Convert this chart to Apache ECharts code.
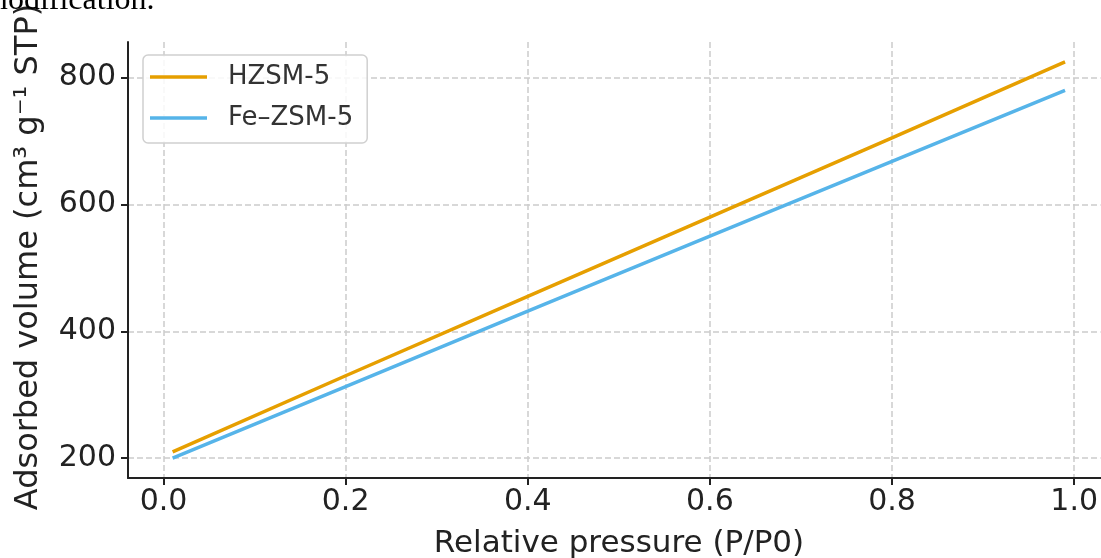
<!DOCTYPE html>
<html>
<head>
<meta charset="utf-8">
<script src="https://cdn.jsdelivr.net/npm/echarts@6/dist/echarts.min.js"></script>
<style>
  html, body { margin: 0; padding: 0; background: #fff; }
  #chart { width: 1101px; height: 558px; }
</style>
</head>
<body>
<div id="chart"></div>
<script>
// relative pressure values (P/P0)
var pressure = [0.01, 0.2, 0.4, 0.6, 0.8, 0.99];
// adsorbed volume, cm3/g STP
var hzsm5 = [210, 330, 455, 580, 705, 825];
var feZsm5 = [200, 313, 432, 550, 668, 780];

var xTicks = [0, 0.2, 0.4, 0.6, 0.8, 1.0];
var yTicks = [200, 400, 600, 800];

function pairs(xs, ys) {
    return xs.map(function (x, i) { return [x, ys[i]]; });
}

var font = 'DejaVu Sans';
var myChart = echarts.init(document.getElementById('chart'));

myChart.setOption({
    animation: false,
    backgroundColor: '#fff',
    grid: {
        left: 128,
        top: 42,
        right: 0,
        bottom: 80
    },
    legend: {
        left: 143,
        top: 55,
        orient: 'vertical',
        icon: 'rect',
        itemWidth: 57,
        itemHeight: 3.5,
        itemGap: 11,
        padding: [7, 14, 10, 7],
        borderColor: '#d0d0d0',
        borderWidth: 1.5,
        borderRadius: 5,
        backgroundColor: 'rgba(255,255,255,0.85)',
        textStyle: {
            fontFamily: font,
            fontSize: 26,
            color: '#333',
            lineHeight: 30,
            padding: [0, 0, 0, 16]
        },
        data: ['HZSM-5', 'Fe–ZSM-5']
    },
    xAxis: {
        type: 'value',
        min: -0.039,
        max: 1.029,
        axisLine: {show: true, onZero: false, lineStyle: {color: '#222', width: 2}},
        axisTick: {
            show: true,
            length: 7,
            lineStyle: {color: '#222', width: 2},
            customValues: xTicks
        },
        axisLabel: {
            customValues: xTicks,
            margin: 9,
            fontFamily: font,
            fontSize: 30,
            color: '#222',
            formatter: function (v) { return v.toFixed(1); }
        },
        splitLine: {
            show: true,
            lineStyle: {color: '#cccccc', width: 1.5, type: [6, 3]}
        }
    },
    yAxis: {
        type: 'value',
        min: 168.75,
        max: 856.25,
        axisLine: {show: true, onZero: false, lineStyle: {color: '#222', width: 2}},
        axisTick: {
            show: true,
            length: 7,
            lineStyle: {color: '#222', width: 2},
            customValues: yTicks
        },
        axisLabel: {
            customValues: yTicks,
            margin: 12,
            fontFamily: font,
            fontSize: 30,
            color: '#222'
        },
        splitLine: {
            show: true,
            lineStyle: {color: '#cccccc', width: 1.5, type: [6, 3]}
        }
    },
    graphic: [
        {
            type: 'text',
            x: 619,
            y: 544,
            style: {
                text: 'Relative pressure (P/P0)',
                fontFamily: font,
                fontSize: 31,
                fill: '#222',
                textAlign: 'center',
                textVerticalAlign: 'middle'
            }
        },
        {
            type: 'text',
            x: 29,
            y: 257,
            rotation: Math.PI / 2,
            style: {
                text: 'Adsorbed volume (cm³ g⁻¹ STP)',
                fontFamily: font,
                fontSize: 32,
                fill: '#222',
                textAlign: 'center',
                textVerticalAlign: 'middle'
            }
        },
        {
            type: 'text',
            x: -17,
            y: 17,
            style: {
                text: 'modification.',
                fontFamily: 'Liberation Serif',
                fontSize: 32,
                fill: '#000',
                textAlign: 'left',
                textVerticalAlign: 'bottom'
            }
        }
    ],
    series: [
        {
            name: 'HZSM-5',
            type: 'line',
            data: pairs(pressure, hzsm5),
            showSymbol: false,
            lineStyle: {color: '#E69F00', width: 3.5},
            itemStyle: {color: '#E69F00'}
        },
        {
            name: 'Fe–ZSM-5',
            type: 'line',
            data: pairs(pressure, feZsm5),
            showSymbol: false,
            lineStyle: {color: '#56B4E9', width: 3.5},
            itemStyle: {color: '#56B4E9'}
        }
    ]
});
</script>
</body>
</html>
